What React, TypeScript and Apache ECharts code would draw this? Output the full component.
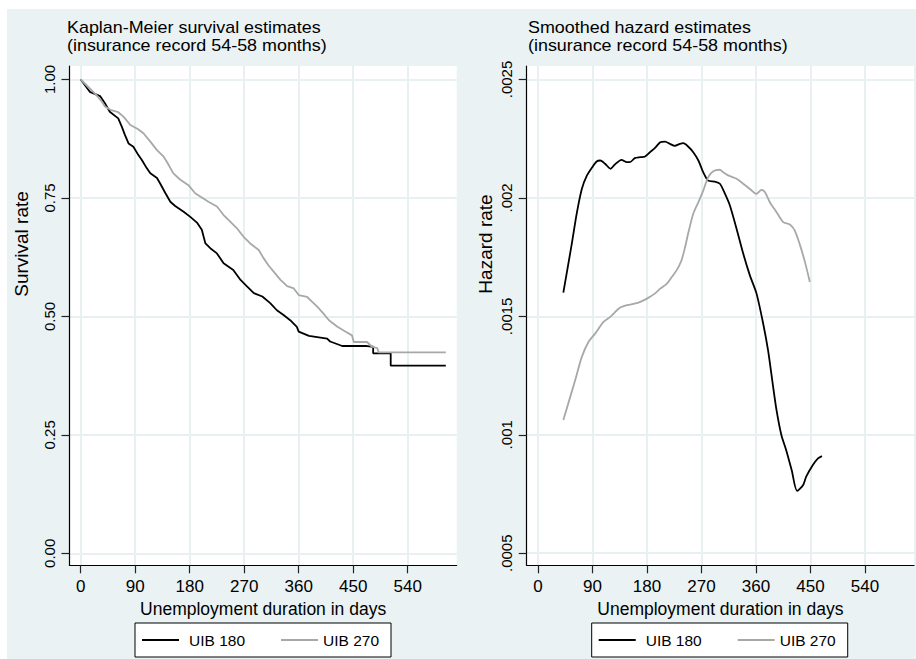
import React, { useEffect, useRef } from 'react';
import * as echarts from 'echarts';

// ---------- data ----------
const seriesNames = ['UIB 180', 'UIB 270'];
const xTicks = [0, 90, 180, 270, 360, 450, 540];
const survTicks = [0, 0.25, 0.5, 0.75, 1];
const survTickLabels = ['0.00', '0.25', '0.50', '0.75', '1.00'];
const hazTicks = [0.0005, 0.001, 0.0015, 0.002, 0.0025];
const hazTickLabels = ['.0005', '.001', '.0015', '.002', '.0025'];

const leftTitle = ['Kaplan-Meier survival estimates', '(insurance record 54-58 months)'];
const rightTitle = ['Smoothed hazard estimates', '(insurance record 54-58 months)'];
const xName = 'Unemployment duration in days';
const leftYName = 'Survival rate';
const rightYName = 'Hazard rate';

// Kaplan-Meier survival, [days, survival]
const km180: [number, number][] = [
  [0, 1.0], [15, 0.974], [32, 0.965], [40, 0.95], [48, 0.932], [62, 0.918], [68, 0.9],
  [73, 0.883], [79, 0.865], [87, 0.858], [95, 0.841], [101, 0.83], [109, 0.813],
  [115, 0.802], [126, 0.792], [131, 0.781], [140, 0.76], [148, 0.742], [156, 0.733],
  [170, 0.721], [181, 0.71], [192, 0.698], [200, 0.683], [206, 0.654], [214, 0.644],
  [225, 0.633], [236, 0.612], [252, 0.598], [264, 0.577], [275, 0.563], [286, 0.549],
  [300, 0.542], [313, 0.528], [324, 0.513], [335, 0.503], [346, 0.492], [357, 0.478],
  [360, 0.468], [377, 0.459], [407, 0.453], [412, 0.447], [432, 0.4375], [473, 0.4375],
  [483, 0.436], [483, 0.422], [512, 0.422], [512, 0.396], [603, 0.396],
];
const km270: [number, number][] = [
  [0, 1.0], [15, 0.981], [26, 0.967], [35, 0.953], [40, 0.943], [49, 0.936], [62, 0.931],
  [71, 0.921], [82, 0.904], [95, 0.895], [104, 0.886], [115, 0.869], [126, 0.851],
  [137, 0.837], [142, 0.827], [153, 0.802], [164, 0.789], [178, 0.777], [189, 0.76],
  [200, 0.751], [211, 0.742], [225, 0.732], [236, 0.714], [247, 0.7], [258, 0.686],
  [269, 0.668], [280, 0.654], [294, 0.64], [302, 0.623], [310, 0.608], [319, 0.594],
  [330, 0.577], [341, 0.564], [352, 0.559], [360, 0.545], [374, 0.541], [382, 0.531],
  [391, 0.52], [401, 0.506], [410, 0.492], [424, 0.478], [437, 0.468], [448, 0.46],
  [451, 0.446], [473, 0.446], [481, 0.436], [490, 0.433], [492, 0.424], [603, 0.424],
];

// Smoothed hazard, [days, hazard]
const haz180: [number, number][] = [
  [42, 0.0016], [56, 0.001807], [64, 0.001933], [72.5, 0.002038], [81, 0.002095],
  [89, 0.002127], [97, 0.002154], [103, 0.002158], [111, 0.002144], [120, 0.002123],
  [127, 0.002141], [138, 0.002161], [147, 0.002151], [152, 0.002151], [160, 0.002168],
  [169, 0.002172], [177, 0.002175], [185, 0.002193], [193, 0.00221], [202, 0.002235],
  [210, 0.002238], [218, 0.002228], [226, 0.00222], [234.5, 0.002228], [240, 0.002231],
  [248, 0.002217], [256.5, 0.002193], [265, 0.002158], [273, 0.002108], [281, 0.002073],
  [292, 0.002069], [300.5, 0.00206], [309, 0.002017], [317, 0.001968], [328, 0.00187],
  [339, 0.001765], [350, 0.001673], [361, 0.001596], [372, 0.001469], [380, 0.001357],
  [388, 0.00121], [394, 0.001104], [402, 0.000999], [410, 0.000935], [419, 0.000851],
  [428, 0.000763], [438, 0.000788], [443, 0.000823], [454, 0.000872], [462.5, 0.0009],
  [469, 0.00091],
];
const haz270: [number, number][] = [
  [42, 0.001062], [61.5, 0.00123], [72.5, 0.001329], [83.5, 0.001392], [94.4, 0.001427],
  [108, 0.001476], [119, 0.001497], [136, 0.001537], [152, 0.00155], [166, 0.001558],
  [180, 0.001575], [193, 0.001596], [202, 0.001617], [213, 0.001638], [221, 0.001666],
  [229, 0.001694], [237, 0.001736], [243, 0.001792], [248, 0.001849], [256.5, 0.001933],
  [265, 0.001982], [273, 0.002031], [281, 0.002087], [289.5, 0.002113], [300.5, 0.002119],
  [306, 0.002108], [314, 0.002095], [328, 0.002081], [339, 0.00206], [350, 0.002038],
  [361, 0.002017], [369, 0.002034], [375, 0.002024], [383, 0.001982], [394, 0.00194],
  [405, 0.001898], [416, 0.001888], [424, 0.001863], [432, 0.001807], [441, 0.001729],
  [449, 0.001645],
];

// ---------- styling ----------
const FONT = '"Liberation Sans", Arial, Helvetica, sans-serif';
const BG = '#eaf2f3';
const GRIDLINE = '#e8f0f2';
const BLACK = '#000000';
const GRAY = '#a8a8a8';

function labelFor(ticks: number[], labels: string[]) {
  return (v: number) => {
    const i = ticks.findIndex((t) => Math.abs(t - v) < 1e-12 + 1e-9 * Math.abs(t));
    return i >= 0 ? labels[i] : '';
  };
}

function xAxisFor(gridIndex: number) {
  return {
    type: 'value',
    gridIndex,
    min: -18.5,
    max: 621,
    name: xName,
    nameLocation: 'middle',
    nameGap: 35,
    nameTextStyle: { fontSize: 17.5, color: BLACK, fontFamily: FONT },
    axisLine: { show: true, onZero: false, lineStyle: { color: BLACK, width: 1.2 } },
    axisTick: { show: true, length: 8, customValues: xTicks, lineStyle: { color: '#222', width: 1.2 } },
    axisLabel: { show: true, customValues: xTicks, margin: 13, fontSize: 17, color: BLACK, fontFamily: FONT },
    splitLine: { show: true, lineStyle: { color: GRIDLINE, width: 2 } },
  };
}

function yAxisFor(gridIndex: number, min: number, max: number, ticks: number[], labels: string[]) {
  return {
    type: 'value',
    gridIndex,
    min,
    max,
    axisLine: { show: true, onZero: false, lineStyle: { color: BLACK, width: 1.2 } },
    axisTick: { show: true, length: 8, customValues: ticks, lineStyle: { color: '#222', width: 1.2 } },
    axisLabel: {
      show: true,
      customValues: ticks,
      rotate: 90,
      margin: 12.5,
      fontSize: 15,
      color: BLACK,
      fontFamily: FONT,
      formatter: labelFor(ticks, labels),
    },
    splitLine: { show: true, lineStyle: { color: GRIDLINE, width: 2 } },
  };
}

function legendAt(left: number) {
  return {
    left,
    top: 623,
    orient: 'horizontal',
    icon: 'rect',
    itemWidth: 37,
    itemHeight: 2,
    itemGap: 36,
    padding: [9, 12, 9, 7],
    backgroundColor: '#ffffff',
    borderColor: BLACK,
    borderWidth: 1,
    borderRadius: 0,
    selectedMode: false,
    formatter: (name: string) => (name === seriesNames[0] ? '{gap|}' + name : name),
    textStyle: {
      fontSize: 15.5,
      color: BLACK,
      fontFamily: FONT,
      rich: { gap: { width: 5 } },
    },
    data: [{ name: seriesNames[0] }, { name: seriesNames[1] }],
  };
}

function titleTexts(x: number, lines: string[]) {
  return lines.map((t, i) => ({
    type: 'text',
    x,
    y: i === 0 ? 27.8 : 45.5,
    scaleX: 1.12,
    style: {
      text: t,
      fontSize: 16,
      fontFamily: FONT,
      fill: BLACK,
      align: 'left',
      verticalAlign: 'middle',
    },
  }));
}

function yTitle(x: number, y: number, text: string) {
  return {
    type: 'text',
    x,
    y,
    rotation: Math.PI / 2,
    style: {
      text,
      fontSize: 19,
      fontFamily: FONT,
      fill: BLACK,
      align: 'center',
      verticalAlign: 'middle',
    },
  };
}

function lineSeries(name: string, xi: number, data: [number, number][], color: string, extra: object) {
  return {
    type: 'line',
    name,
    xAxisIndex: xi,
    yAxisIndex: xi,
    data,
    symbol: 'none',
    showSymbol: false,
    clip: true,
    lineStyle: { color, width: 1.8 },
    itemStyle: { color },
    emphasis: { disabled: true },
    ...extra,
  };
}

export default function App() {
  const ref = useRef<HTMLDivElement>(null);

  useEffect(() => {
    document.body.style.margin = '0';
    if (!ref.current) return;
    const chart = echarts.init(ref.current, null, { renderer: 'svg' });

    const option: any = {
      animation: false,
      backgroundColor: '#ffffff',
      textStyle: { fontFamily: FONT },
      grid: [
        { left: 69.5, top: 66, width: 387.2, height: 499.3, show: true, backgroundColor: '#ffffff', borderWidth: 0, containLabel: false, outerBoundsMode: 'none' },
        { left: 526.7, top: 66, width: 387.3, height: 499.3, show: true, backgroundColor: '#ffffff', borderWidth: 0, containLabel: false, outerBoundsMode: 'none' },
      ],
      xAxis: [xAxisFor(0), xAxisFor(1)],
      yAxis: [
        yAxisFor(0, -0.0253, 1.0285, survTicks, survTickLabels),
        yAxisFor(1, 0.000449, 0.002557, hazTicks, hazTickLabels),
      ],
      legend: [legendAt(135), legendAt(591.7)],
      graphic: [
        { type: 'rect', z: -100, silent: true, shape: { x: 7, y: 9, width: 909, height: 650 }, style: { fill: BG } },
        ...titleTexts(67, leftTitle),
        ...titleTexts(528, rightTitle),
        yTitle(21.5, 244, leftYName),
        yTitle(485, 244, rightYName),
      ],
      series: [
        lineSeries(seriesNames[0], 0, km180, BLACK, {}),
        lineSeries(seriesNames[1], 0, km270, GRAY, {}),
        lineSeries(seriesNames[0], 1, haz180, BLACK, { smooth: 0.25 }),
        lineSeries(seriesNames[1], 1, haz270, GRAY, { smooth: 0.25 }),
      ],
    };

    chart.setOption(option);
    return () => chart.dispose();
  }, []);

  return <div ref={ref} style={{ width: 916, height: 659 }} />;
}
